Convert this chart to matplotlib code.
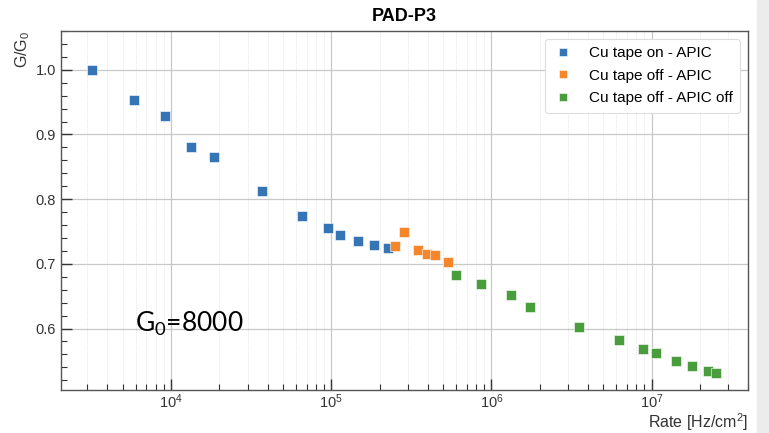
import matplotlib.pyplot as plt
from matplotlib.ticker import MultipleLocator, LogLocator, NullFormatter
from matplotlib.patches import Rectangle

plt.rcParams['font.family'] = ['Liberation Sans', 'DejaVu Sans']

# Cu tape on - APIC
rate_on = [3215, 5880, 9180, 13330, 18550, 37100, 65300, 94800, 112700, 147000, 186000, 227000]
gain_on = [1.000, 0.954, 0.928, 0.881, 0.865, 0.813, 0.7745, 0.756, 0.744, 0.735, 0.7285, 0.7247]

# Cu tape off - APIC
rate_off = [249000, 284000, 348000, 393000, 442000, 536000]
gain_off = [0.7275, 0.749, 0.721, 0.7155, 0.714, 0.7025]

# Cu tape off - APIC off
rate_off2 = [601000, 865000, 1.318e6, 1.73e6, 3.53e6, 6.24e6, 8.9e6, 1.07e7, 1.43e7, 1.78e7, 2.24e7, 2.51e7]
gain_off2 = [0.6833, 0.6693, 0.652, 0.634, 0.603, 0.5817, 0.5677, 0.562, 0.550, 0.5428, 0.535, 0.5314]

labels = ['Cu tape on - APIC', 'Cu tape off - APIC', 'Cu tape off - APIC off']
colors = ['#3575b5', '#f5862c', '#4a9d3c']

fig = plt.figure(figsize=(7.69, 4.33), dpi=100)
ax = fig.add_axes([0.0793, 0.0993, 0.8934, 0.8291])

for x, y, lab, c in zip([rate_on, rate_off, rate_off2], [gain_on, gain_off, gain_off2], labels, colors):
  ax.plot(x, y, 's', color=c, ms=7.2, mec='white', mew=0.4, label=lab, zorder=3)

ax.set_xscale('log')
ax.set_xlim(2050, 4e7)
ax.set_ylim(0.505, 1.06)
ax.yaxis.set_major_locator(MultipleLocator(0.1))
ax.yaxis.set_minor_locator(MultipleLocator(0.02))
ax.xaxis.set_minor_locator(LogLocator(base=10, subs=range(2, 10)))
ax.xaxis.set_minor_formatter(NullFormatter())

ax.tick_params(which='both', direction='in', top=False, right=False, labelsize=10.5, colors='#333333')
ax.tick_params(axis='x', pad=2)
ax.tick_params(which='major', length=8, width=1)
ax.tick_params(which='minor', length=4.5, width=0.8)

ax.grid(which='major', color='#c8c8c8', lw=0.9)
ax.grid(which='minor', axis='x', color='#dcdcdc', lw=0.6, ls=':')
ax.set_axisbelow(True)
for s in ax.spines.values():
  s.set_color('#555555')
  s.set_linewidth(1)

ax.set_title('PAD-P3', fontsize=13, fontweight='bold', pad=7)
ax.set_ylabel('G/G$_\\mathregular{0}$', loc='top', fontsize=11.5, color='#333333', labelpad=3)
ax.set_xlabel('Rate [Hz/cm$^\\mathregular{2}$]', loc='right', fontsize=11.5, color='#333333', labelpad=0)

ax.text(0.1077, 0.1616, 'G$_\\mathregular{0}$=8000', transform=ax.transAxes, fontsize=19,
        va='baseline', family=['Lato', 'DejaVu Sans'])

leg = ax.legend(loc='upper right', fontsize=11, markerscale=0.75, framealpha=1, edgecolor='#dddddd',
                borderpad=0.5, handlelength=1.4, handletextpad=1.0, labelspacing=0.55)
leg.get_frame().set_linewidth(0.8)

# grey strip on the right side of the screenshot
fig.patches.append(Rectangle((0.985, 0), 0.015, 1, transform=fig.transFigure, color='#ececec', zorder=0))

fig.savefig('out.png', dpi=100)
